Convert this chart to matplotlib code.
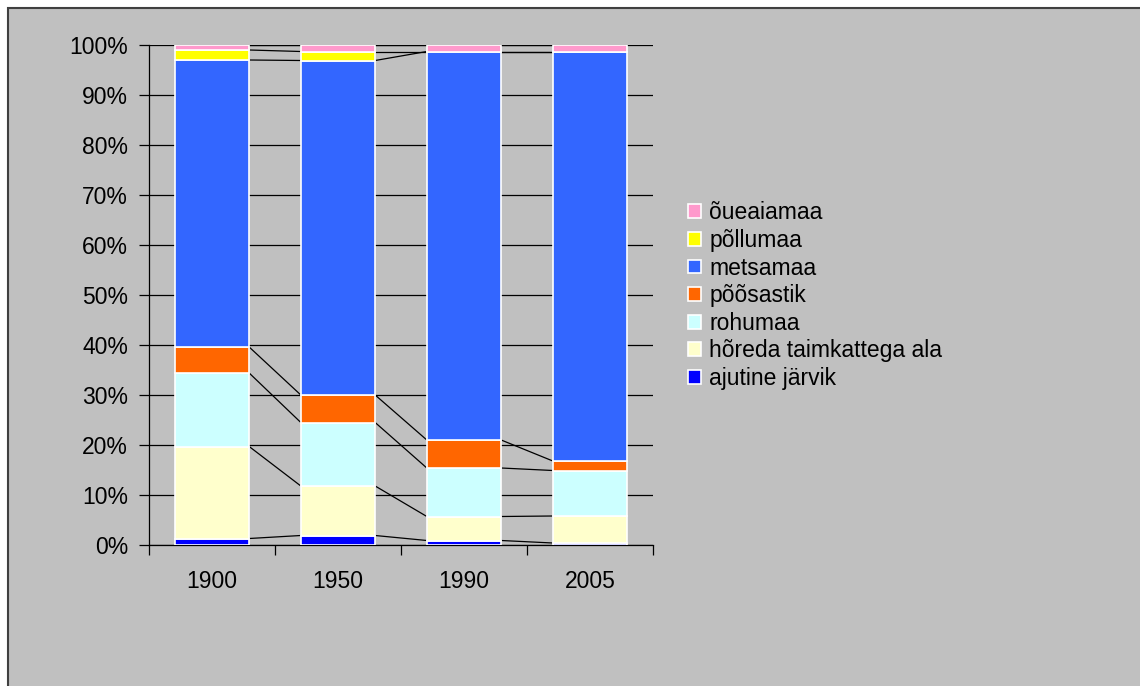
import numpy as np
import matplotlib.pyplot as plt
from matplotlib.patches import Patch, Rectangle

years = ["1900", "1950", "1990", "2005"]
# bottom to top
series = ["ajutine järvik", "hõreda taimkattega ala", "rohumaa", "põõsastik",
          "metsamaa", "põllumaa", "õueaiamaa"]
ajutine = [1.3, 1.9, 0.9, 0.4]
horeda = [18.4, 9.9, 4.8, 5.4]
rohumaa = [14.7, 12.7, 9.7, 9.1]
poosastik = [5.2, 5.5, 5.6, 1.9]
metsamaa = [57.4, 66.9, 77.7, 81.9]
pollumaa = [2.0, 1.8, 0.0, 0.0]
oueaiamaa = [1.0, 1.3, 1.3, 1.3]
colors = ["#0000FF", "#FFFFCC", "#CCFFFF", "#FF6600", "#3366FF", "#FFFF00", "#FF99CC"]


def main():
    plt.rcParams["font.family"] = ["Liberation Sans", "DejaVu Sans"]
    values = np.array([ajutine, horeda, rohumaa, poosastik, metsamaa, pollumaa, oueaiamaa])
    values = values / values.sum(axis=0) * 100

    fig = plt.figure(figsize=(11.4, 6.86), dpi=100, facecolor="white")
    fig.patches.append(Rectangle((8 / 1140, -0.05), 1.2, 1 - 8 / 686 + 0.05,
                                 transform=fig.transFigure, facecolor="#C0C0C0",
                                 edgecolor="#404040", linewidth=1.5, zorder=-5))

    ax = fig.add_axes([149 / 1140, 141 / 686, 504 / 1140, 500 / 686])
    ax.set_facecolor("none")
    x = np.arange(len(years))
    width = 0.59
    bottom = np.zeros(len(years))
    for i, name in enumerate(series):
        ax.bar(x, values[i], width, bottom=bottom, color=colors[i],
               edgecolor="white", linewidth=1.2, zorder=3)
        top = bottom + values[i]
        for j in range(len(years) - 1):
            ax.plot([x[j] + width / 2, x[j + 1] - width / 2], [top[j], top[j + 1]],
                    color="black", linewidth=0.9, zorder=2)
        bottom = top

    ax.set_xlim(-0.5, 3.5)
    ax.set_ylim(0, 100)
    ax.set_yticks(np.arange(0, 101, 10))
    ax.set_yticklabels([f"{v}%" for v in range(0, 101, 10)], fontsize=16.5)
    ax.yaxis.grid(True, color="black", linewidth=0.9, zorder=1)
    ax.set_axisbelow(True)
    ax.tick_params(axis="y", length=7, width=0.9, pad=8)
    ax.set_xticks(x)
    ax.set_xticklabels(years, fontsize=16.5)
    ax.set_xticks(np.arange(-0.5, 3.6, 1), minor=True)
    ax.tick_params(axis="x", which="major", length=0, pad=18)
    ax.tick_params(axis="x", which="minor", length=7, width=0.9)
    for side in ["top", "right"]:
        ax.spines[side].set_visible(False)
    for side in ["left", "bottom"]:
        ax.spines[side].set_linewidth(0.9)

    handles = [Patch(facecolor=colors[i], edgecolor="white", linewidth=1.2, label=series[i])
               for i in range(len(series) - 1, -1, -1)]
    fig.legend(handles=handles, loc="upper left", bbox_to_anchor=(677 / 1140, 1 - 190 / 686),
               frameon=False, fontsize=16.5, handlelength=0.55, handleheight=0.55,
               handletextpad=0.35, labelspacing=0.2, borderpad=0)

    plt.savefig("out.png", dpi=100, facecolor=fig.get_facecolor())


if __name__ == "__main__":
    main()
